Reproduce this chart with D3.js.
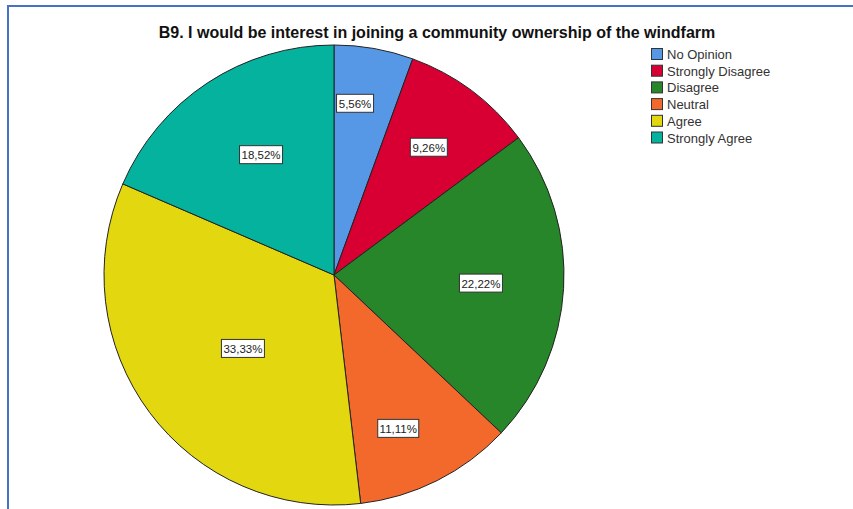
<!DOCTYPE html>
<html>
<head>
<meta charset="utf-8">
<script src="https://cdn.jsdelivr.net/npm/d3@7"></script>
<style>
  html, body { margin: 0; padding: 0; background: #fff; }
  svg { display: block; }
</style>
</head>
<body>
<svg id="chart" width="853" height="509"></svg>
<script>
// Responses to B9, in drawing order (clockwise from 12 o'clock)
const categories = ["No Opinion", "Strongly Disagree", "Disagree", "Neutral", "Agree", "Strongly Agree"];
const percents = [5.56, 9.26, 22.22, 11.11, 33.33, 18.52];
const colors = ["#5798E6", "#D80033", "#28862A", "#F3692C", "#E3D80F", "#05B29E"];
const titleText = "B9. I would be interest in joining a community ownership of the windfarm";

// Label placement per slice: distance from the centre (fraction of the radius)
// and position across the slice's angular span (0 = start, 1 = end)
const labelRadiusFrac = [0.75, 0.69, 0.64, 0.725, 0.51, 0.61];
const labelAngleFrac = [0.35, 0.5, 0.5, 0.6, 0.48, 0.53];

const width = 853, height = 509;
const cx = 334, cy = 275, radius = 230;

const svg = d3.select("#chart");

// Outer frame (only the top and left edges fall inside the view)
svg.append("rect")
  .attr("x", 8).attr("y", 6)
  .attr("width", width + 20).attr("height", height + 20)
  .attr("fill", "none")
  .attr("stroke", "#4472C4")
  .attr("stroke-width", 2);

// Title
svg.append("text")
  .attr("x", 437).attr("y", 38)
  .attr("text-anchor", "middle")
  .attr("font-family", "Liberation Sans, Arial, sans-serif")
  .attr("font-size", 16)
  .attr("font-weight", "bold")
  .attr("fill", "#111")
  .text(titleText);

const data = categories.map((c, i) => ({
  cat: c, value: percents[i], color: colors[i],
  lr: labelRadiusFrac[i], la: labelAngleFrac[i]
}));

const pie = d3.pie().sort(null).value(d => d.value);
const arcs = pie(data);
const arc = d3.arc().innerRadius(0).outerRadius(radius);

const g = svg.append("g").attr("transform", `translate(${cx},${cy})`);

g.selectAll("path.slice")
  .data(arcs)
  .join("path")
  .attr("class", "slice")
  .attr("d", arc)
  .attr("fill", d => d.data.color)
  .attr("stroke", "#222")
  .attr("stroke-width", 1)
  .attr("stroke-linejoin", "round");

// Value labels in white boxes
const fmt = v => v.toFixed(2).replace(".", ",") + "%";
const labels = g.selectAll("g.lbl")
  .data(arcs)
  .join("g")
  .attr("class", "lbl")
  .attr("transform", d => {
    const a = d.startAngle + (d.endAngle - d.startAngle) * d.data.la;
    const r = radius * d.data.lr;
    return `translate(${r * Math.sin(a)},${-r * Math.cos(a)})`;
  });

labels.each(function (d) {
  const sel = d3.select(this);
  const t = sel.append("text")
    .attr("text-anchor", "middle")
    .attr("dy", "0.36em")
    .attr("font-family", "Liberation Sans, Arial, sans-serif")
    .attr("font-size", 11.5)
    .attr("fill", "#222")
    .text(fmt(d.data.value));
  const bb = t.node().getBBox();
  sel.insert("rect", "text")
    .attr("x", Math.round(bb.x - 2.5) + 0.5)
    .attr("y", -9.5)
    .attr("width", Math.round(bb.width + 4))
    .attr("height", 18)
    .attr("fill", "#fff")
    .attr("stroke", "#333")
    .attr("stroke-width", 1);
});

// Legend
const legend = svg.append("g").attr("transform", "translate(651,48)");
const rows = legend.selectAll("g.row")
  .data(data)
  .join("g")
  .attr("class", "row")
  .attr("transform", (d, i) => `translate(0,${i * 16.7})`);

rows.append("rect")
  .attr("x", 0.5).attr("y", 0.5)
  .attr("width", 11).attr("height", 11)
  .attr("fill", d => d.color)
  .attr("stroke", "#333")
  .attr("stroke-width", 1);

rows.append("text")
  .attr("x", 16).attr("y", 11)
  .attr("font-family", "Liberation Sans, Arial, sans-serif")
  .attr("font-size", 13)
  .attr("fill", "#333")
  .text(d => d.cat);
</script>
</body>
</html>
